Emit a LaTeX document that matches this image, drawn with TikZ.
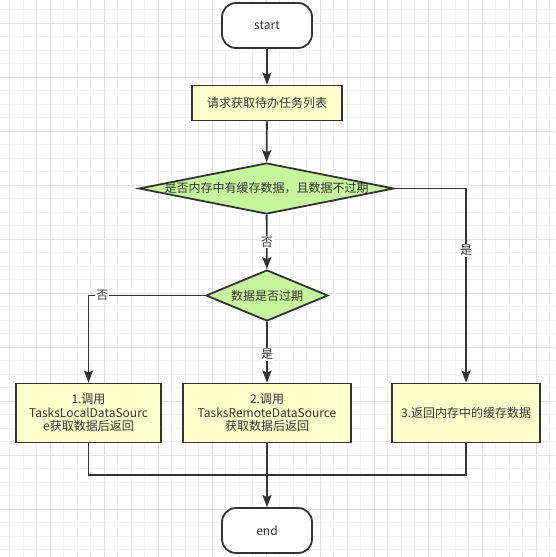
\documentclass[tikz,border=0pt]{standalone}
\usepackage{fontspec}
\setmainfont{Noto Sans CJK SC}
\usetikzlibrary{shapes.geometric,arrows.meta}
\definecolor{ink}{HTML}{333333}
\definecolor{gmin}{HTML}{F3F3F3}
\definecolor{gmaj}{HTML}{E3E3E3}
\definecolor{decfill}{HTML}{C7F59E}
\definecolor{procfill}{HTML}{FFFFCC}
\tikzset{
  term/.style={draw=ink, line width=1.8pt, fill=white, rectangle, rounded corners=14pt,
    minimum width=90pt, minimum height=45pt, inner sep=0pt, text=ink},
  proc/.style={draw=ink, line width=1.8pt, fill=procfill, rectangle, align=center,
    minimum height=59pt, inner sep=0pt, text=ink},
  dec/.style={draw=ink, line width=1.8pt, fill=decfill, diamond, inner sep=0pt, text=ink},
  conn/.style={draw=ink, line width=1.8pt},
  arr/.style={conn, -{Stealth[length=12pt, width=9pt, inset=2pt]}},
  lbl/.style={fill=white, inner sep=1pt, text=ink},
}
\begin{document}
\begin{tikzpicture}[x=1pt, y=-1pt, font=\fontsize{12pt}{13.5pt}\selectfont]
\useasboundingbox (0,0) rectangle (555,557);
\fill[white] (0,0) rectangle (555,557);
% grid
\foreach \i in {0,...,42} {
  \draw[gmin, line width=1pt] ({-4+13.5*\i},0) -- ({-4+13.5*\i},557);
  \draw[gmin, line width=1pt] (0,{-4+13.5*\i}) -- (555,{-4+13.5*\i});
}
\foreach \i in {0,...,11} {
  \draw[gmaj, line width=1pt] ({-4+54*\i},0) -- ({-4+54*\i},557);
  \draw[gmaj, line width=1pt] (0,{23+54*\i-54}) -- (555,{23+54*\i-54});
}
% nodes
\node[term] (start) at (267,25.5) {start};
\node[proc, minimum width=150pt, minimum height=35pt] (req) at (267,103) {请求获取待办任务列表};
\node[dec, minimum width=255pt, minimum height=51pt] (d1) at (266.5,188.5) {\makebox[0pt]{是否内存中有缓存数据，且数据不过期}};
\node[dec, minimum width=122pt, minimum height=51pt] (d2) at (267,295.5) {\makebox[0pt]{数据是否过期}};
\node[proc, minimum width=145pt] (b1) at (88.5,413) {1.调用\\TasksLocalDataSourc\\e获取数据后返回};
\node[proc, minimum width=168pt] (b2) at (267,413) {2.调用\\TasksRemoteDataSource\\获取数据后返回};
\node[proc, minimum width=148pt] (b3) at (466,413) {3.返回内存中的缓存数据};
\node[term] (end) at (267,530.5) {end};
\coordinate (m) at (267,475);
% connectors
\draw[arr] (start) -- (req);
\draw[arr] (req) -- (d1);
\draw[arr] (d1) -- node[lbl]{否} (d2);
\draw[arr] (d1.east) -| node[lbl, pos=0.66]{是} (b3);
\draw[arr] (d2.west) -| node[lbl, pos=0.44]{否} (b1);
\draw[arr] (d2) -- node[lbl, pos=0.54]{是} (b2);
\draw[conn] (b1) |- (m) -| (b3);
\draw[arr] (b2) -- (end);
\end{tikzpicture}
\end{document}
